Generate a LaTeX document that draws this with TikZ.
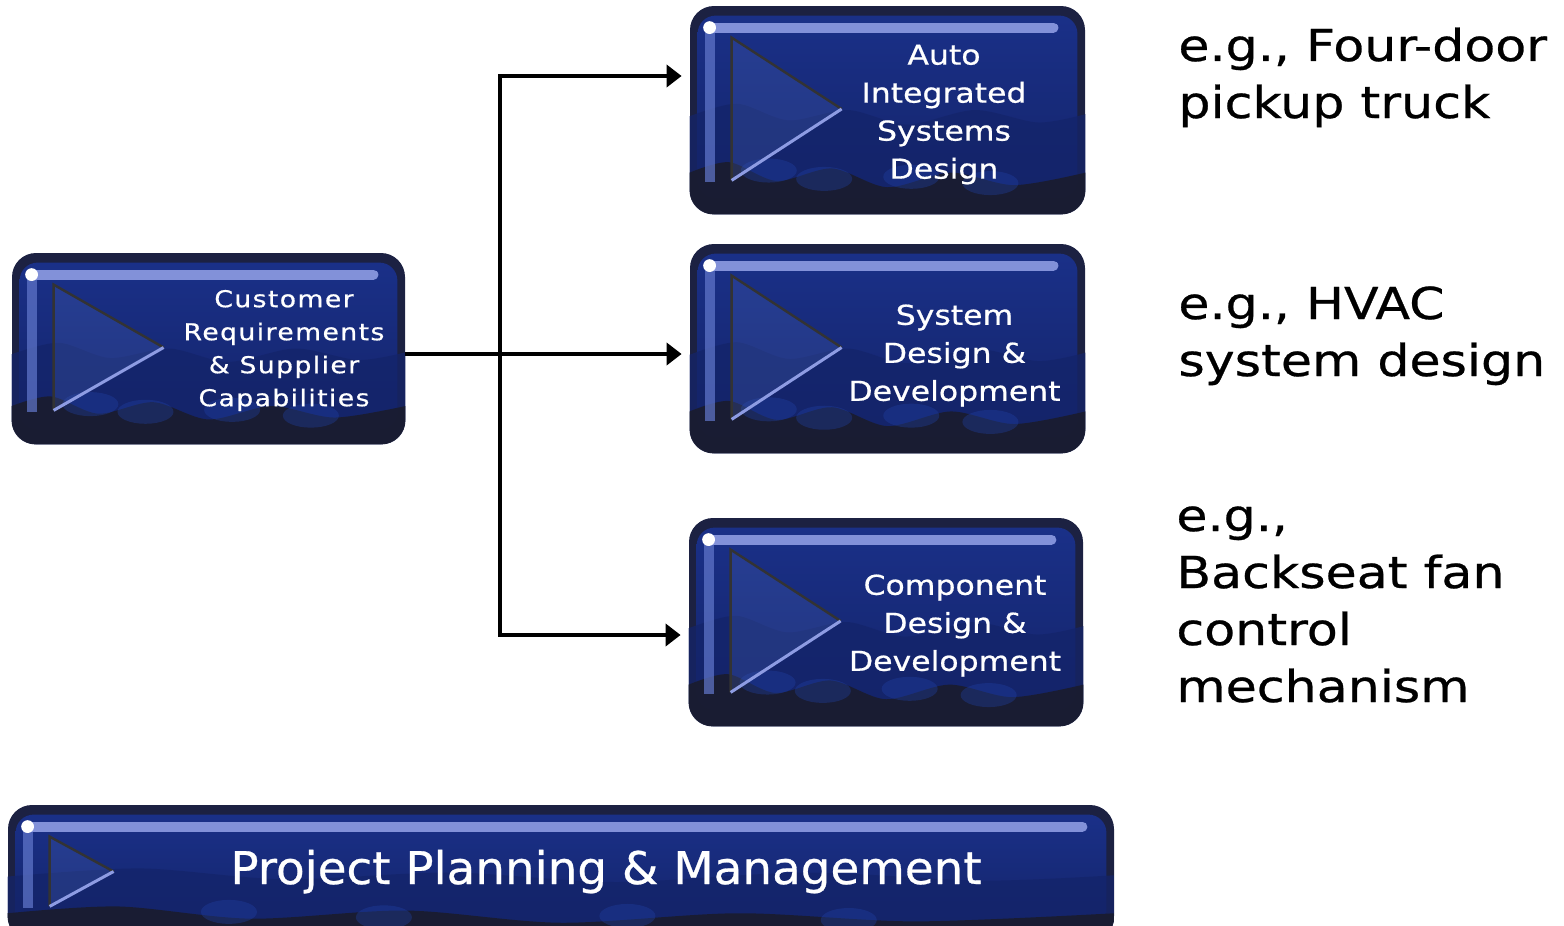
\documentclass[tikz,border=0pt]{standalone}
\usepackage{fontspec}
\setmainfont{DejaVu Sans}[FakeStretch=1.15,FakeBold=0.6]
\newfontfamily\barfont{DejaVu Sans}[FakeStretch=1.04,FakeBold=0.6]
\usetikzlibrary{arrows.meta,calc,positioning}
\definecolor{navyedge}{HTML}{1C2142}
\definecolor{navytop}{HTML}{1A3088}
\definecolor{navymid}{HTML}{2143AA}
\definecolor{navylow}{HTML}{14246A}
\definecolor{navyfoot}{HTML}{1A1C2E}
\definecolor{glint}{HTML}{8E9CE3}
\begin{document}
\begin{tikzpicture}[x=0.5pt,y=-0.5pt,line join=miter,>={Triangle[length=7.5pt,width=11pt]},
	panel/.style={rounded corners=12pt, fill=navyedge, inner sep=0pt},
	boxtext/.style={text=white, align=center, inner sep=0pt, font=\fontsize{13.7}{19}\selectfont},
	note/.style={anchor=base west, align=left, inner sep=0pt, font=\fontsize{22}{28.5}\selectfont},
	flow/.style={->, line width=2pt, shorten >=4pt}]
	\def\panelart#1#2{% #1 panel, #2 width of the play mark (pt)
		\begin{scope}
			\clip[rounded corners=12pt] (#1.north west) rectangle (#1.south east);
			\pgfpointdiff{\pgfpointanchor{#1}{north west}}{\pgfpointanchor{#1}{south east}}%
			\pgfgetlastxy{\pw}{\ph}%
			\begin{scope}[shift={(#1.north west)}, x=\pw, y=\ph]
				% glossy body
				\shade[top color=navytop, middle color=navymid, bottom color=navylow, rounded corners=9pt]
				($(0,0)+(4pt,-5pt)$) rectangle ($(1,.92)+(-4pt,0pt)$);
				% dark hills
				\fill[navylow, opacity=.75] plot[smooth] coordinates {(0,.53) (.12,.47) (.25,.55) (.4,.5) (.55,.57) (.72,.5) (.88,.56) (1,.52)} -- (1,1) -- (0,1) -- cycle;
				\fill[navyfoot, opacity=.9] plot[smooth] coordinates {(0,.8) (.1,.75) (.22,.84) (.36,.78) (.5,.87) (.66,.8) (.82,.86) (1,.8)} -- (1,1) -- (0,1) -- cycle;
				\foreach \u/\v in {.2/.79, .34/.83, .56/.82, .76/.85}
				\fill[navymid, opacity=.35] (\u,\v) ellipse (14pt and 6pt);
				% gloss
				\draw[glint!60!navymid, line width=5pt, opacity=.7] ($(0,0)+(10pt,-12pt)$) -- ($(0,1)+(10pt,16pt)$);
				\draw[glint, line width=5pt, line cap=round, opacity=.9] ($(0,0)+(12pt,-11pt)$) -- ($(1,0)+(-16pt,-11pt)$);
				\fill[white] ($(0,0)+(10pt,-11pt)$) circle (3.2pt);
				% play mark
				\coordinate (ta) at ($(0,0)+(21pt,-16pt)$);
				\coordinate (tb) at ($(0,1)+(21pt,17pt)$);
				\coordinate (tc) at ($(ta)!.5!(tb)+(#2pt,0pt)$);
				\fill[navymid!80!white, opacity=.25] (ta) -- (tc) -- (tb) -- cycle;
				\draw[black!80, line width=1.2pt] (tb) -- (ta) -- (tc);
				\draw[glint, line width=1.5pt] (tc) -- (tb);
			\end{scope}
		\end{scope}}
	\useasboundingbox (0,0) rectangle (1564,926);
	
	\node[panel, minimum width=196.5pt, minimum height=95.5pt] (cust) at (208.5,348.5) {};
	\node[panel, minimum width=197.5pt, minimum height=104pt] (auto) at (887.5,110) {};
	\node[panel, minimum width=197.5pt, minimum height=104.5pt] (sys) at (887.5,348.5) {};
	\node[panel, minimum width=197pt, minimum height=104pt] (comp) at (886,622) {};
	\node[panel, minimum width=553pt, minimum height=67.5pt] (proj) at (561,872.5) {};
	\foreach \p in {cust,auto,sys,comp}
	\panelart{\p}{55};
	\panelart{proj}{32}
	
	\node[boxtext, font=\fontsize{11.6}{16.5}\selectfont\addfontfeature{LetterSpace=6}] (custtxt) at ($(cust.center)+(75.5,2)$) {Customer\\Requirements\\\& Supplier\\Capabilities};
	\node[boxtext] (autotxt) at ($(auto.center)+(56.5,4.5)$) {Auto\\Integrated\\Systems\\Design};
	\node[boxtext] (systxt) at ($(sys.center)+(67,7)$) {System\\Design \&\\Development};
	\node[boxtext] (comptxt) at ($(comp.center)+(69,3.5)$) {Component\\Design \&\\Development};
	\node[text=white, inner sep=0pt, anchor=base, font=\barfont\fontsize{22.5}{27}\selectfont] (projtxt) at ($(proj.center)+(45,11.5)$) {Project Planning \& Management};
	
	\coordinate (fork) at (500,354);
	\draw[flow] (cust.east |- fork) -- (sys.west |- fork);
	\draw[flow] (fork) |- ($(auto.west)+(0,-34)$);
	\draw[flow] (fork) |- ($(comp.west)+(0,13)$);
	
	\node[note] (carnote) at (1178,118) {e.g., Four-door\\pickup truck};
	\node[note] (hvacnote) at (1178,376) {e.g., HVAC\\system design};
	\node[note] (fannote) at (1176,702) {e.g.,\\Backseat fan\\control\\mechanism};
\end{tikzpicture}
\end{document}
